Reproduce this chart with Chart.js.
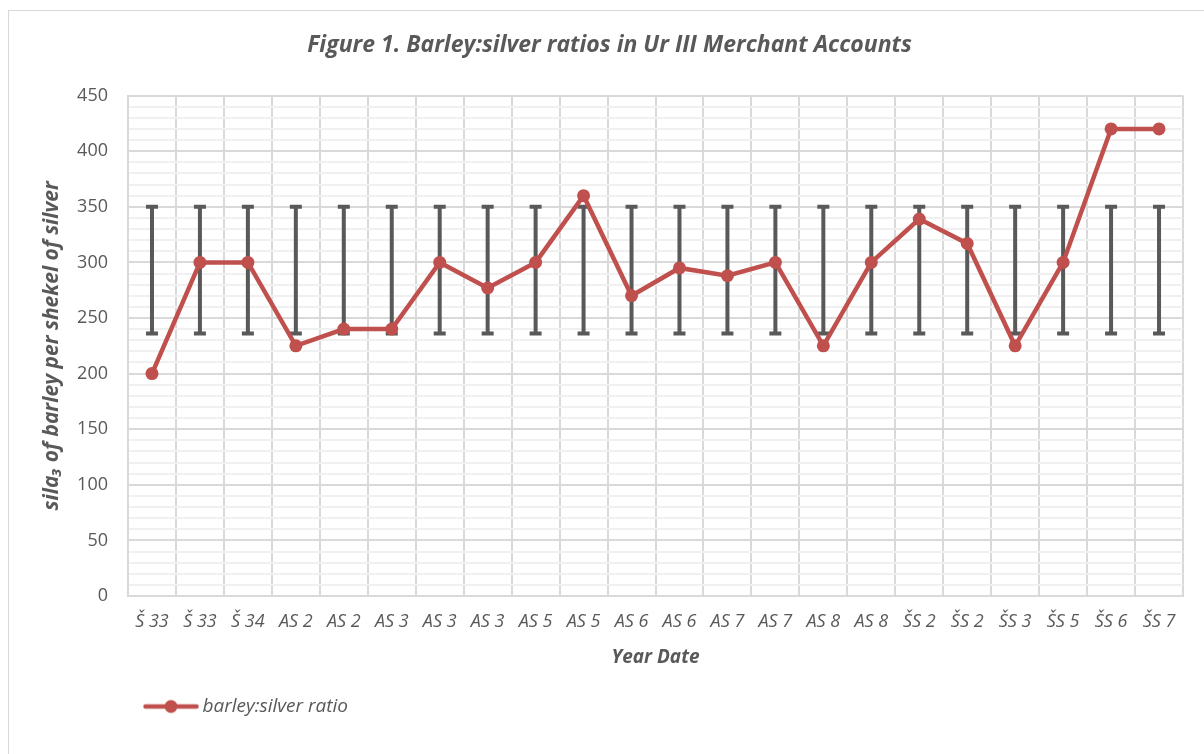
<!DOCTYPE html>
<html>
<head>
<meta charset="utf-8">
<script src="https://cdn.jsdelivr.net/npm/chart.js@4"></script>
<style>
  html, body { margin: 0; padding: 0; background: #fff; overflow: hidden; }
  #wrap { width: 1204px; height: 754px; }
</style>
</head>
<body>
<div id="wrap"><canvas id="ratioChart" width="1204" height="754"></canvas></div>
<script>
// Figure 1 - barley:silver ratios in Ur III merchant accounts

const yearDates = ['Š 33', 'Š 33', 'Š 34', 'AS 2', 'AS 2', 'AS 3', 'AS 3', 'AS 3', 'AS 5', 'AS 5', 'AS 6',
  'AS 6', 'AS 7', 'AS 7', 'AS 8', 'AS 8', 'ŠS 2', 'ŠS 2', 'ŠS 3', 'ŠS 5', 'ŠS 6', 'ŠS 7'];
const ratios = [200, 300, 300, 225, 240, 240, 300, 277, 300, 360, 270,
  295, 288, 300, 225, 300, 339, 317, 225, 300, 420, 420];

// error bars: same band on every point (about 293 +/- 57)
const errorCenter = 293;
const errorAmount = 57;

// y axis
const yMin = 0;
const yMax = 450;
const yLabelStep = 50;
const yMinorStep = 10;

const red = '#C0504D';
const grey = '#595959';
Chart.defaults.font.family = "'Open Sans', Lato, sans-serif";

// line + dot for the legend
const legendMark = document.createElement('canvas');
legendMark.width = 56;
legendMark.height = 16;
const m = legendMark.getContext('2d');
m.strokeStyle = red;
m.fillStyle = red;
m.lineWidth = 4.5;
m.lineCap = 'round';
m.beginPath(); m.moveTo(2.5, 8); m.lineTo(53.5, 8); m.stroke();
m.beginPath(); m.arc(28, 8, 6.5, 0, Math.PI * 2); m.fill();

const frame = {
  id: 'frame',
  beforeDraw(chart) {
    const ctx = chart.ctx;
    ctx.save();
    ctx.strokeStyle = '#d9d9d9';
    ctx.lineWidth = 1;
    ctx.strokeRect(8.5, 10.5, 1400, 900);
    ctx.restore();
  }
};

const errorBars = {
  id: 'errorBars',
  beforeDatasetsDraw(chart) {
    const { ctx, scales: { x, y } } = chart;
    const top = y.getPixelForValue(errorCenter + errorAmount);
    const bottom = y.getPixelForValue(errorCenter - errorAmount);
    ctx.save();
    ctx.strokeStyle = grey;
    ctx.lineWidth = 4;
    yearDates.forEach((_, i) => {
      const px = x.getPixelForValue(i);
      ctx.beginPath();
      ctx.moveTo(px, top); ctx.lineTo(px, bottom);
      ctx.moveTo(px - 6, top); ctx.lineTo(px + 6, top);
      ctx.moveTo(px - 6, bottom); ctx.lineTo(px + 6, bottom);
      ctx.stroke();
    });
    ctx.restore();
  }
};

// nudge title and legend sideways like the original
const shiftBoxes = {
  id: 'shiftBoxes',
  afterLayout(chart) {
    chart.titleBlock.left += 13;
    chart.titleBlock.right += 13;
    chart.legend.left += 129;
    chart.legend.right += 129;
  }
};

new Chart(document.getElementById('ratioChart').getContext('2d'), {
  type: 'line',
  data: {
    labels: yearDates,
    datasets: [{
      label: 'barley:silver ratio',
      data: ratios,
      borderColor: red,
      backgroundColor: red,
      borderWidth: 4.5,
      pointRadius: 6.5,
      pointHoverRadius: 6.5,
      pointBackgroundColor: red,
      pointBorderWidth: 0,
      tension: 0,
      clip: false
    }]
  },
  options: {
    responsive: false,
    animation: false,
    layout: { padding: { left: 10, right: 21, top: 10, bottom: 28 } },
    plugins: {
      title: {
        display: true,
        text: 'Figure 1. Barley:silver ratios in Ur III Merchant Accounts',
        color: grey,
        font: { size: 23, weight: 'bold', style: 'italic' },
        padding: { top: 22, bottom: 36 }
      },
      legend: {
        position: 'bottom',
        align: 'start',
        labels: {
          usePointStyle: true,
          pointStyle: legendMark,
          pointStyleWidth: 44,
          color: grey,
          font: { size: 19, style: 'italic' },
          padding: 10
        }
      },
      tooltip: { enabled: false }
    },
    scales: {
      x: {
        offset: true,
        grid: { offset: true, color: '#d9d9d9', lineWidth: 2, drawTicks: false },
        border: { color: '#d9d9d9', width: 2 },
        ticks: { color: grey, font: { size: 18, style: 'italic' }, padding: 15, maxRotation: 0, autoSkip: false },
        title: {
          display: true,
          text: 'Year Date',
          color: grey,
          font: { size: 19, weight: 'bold', style: 'italic' },
          padding: { top: 0, bottom: 18 }
        },
        afterFit: s => { s.height = 91; }
      },
      y: {
        min: yMin,
        max: yMax,
        grid: {
          color: c => (c.tick.value % yLabelStep === 0 ? '#d9d9d9' : '#f0f0f0'),
          lineWidth: 2,
          drawTicks: false
        },
        border: { color: '#d9d9d9', width: 2 },
        ticks: {
          stepSize: yMinorStep,
          autoSkip: false,
          color: grey,
          font: { size: 18 },
          padding: 20,
          callback: v => (v % yLabelStep === 0 ? v : '')
        },
        title: {
          display: true,
          text: 'sila₃ of barley per shekel of silver',
          color: grey,
          font: { size: 21, weight: 'bold', style: 'italic' },
          padding: { top: 29, bottom: 0 }
        },
        afterFit: s => { s.width = 118; }
      }
    }
  },
  plugins: [frame, errorBars, shiftBoxes]
});
</script>
</body>
</html>
